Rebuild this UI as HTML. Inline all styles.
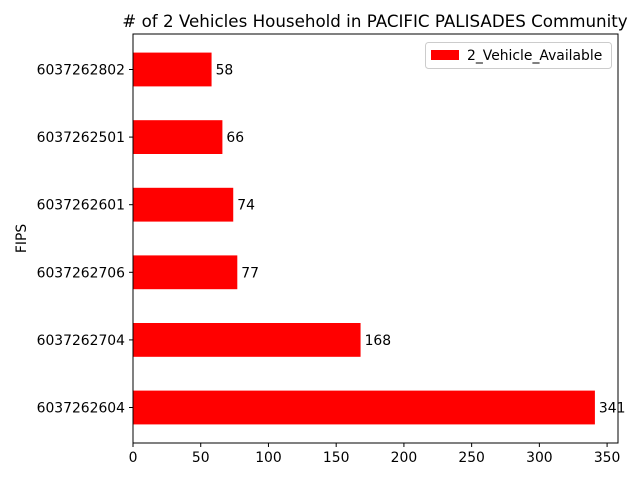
<!DOCTYPE html>
<html><head><meta charset="utf-8"><style>
body{margin:0;background:#fff;font-family:"Liberation Sans","DejaVu Sans",sans-serif;}
svg text{font-family:"DejaVu Sans","Liberation Sans",sans-serif;}
</style></head><body>
<svg id="c" width="640" height="480" xmlns="http://www.w3.org/2000/svg"></svg>
<script>
const categories=["6037262604","6037262704","6037262706","6037262601","6037262501","6037262802"];
const values=[341,168,77,74,66,58];
const xTicks=[0,50,100,150,200,250,300,350];
const L=133,R=618,T=34,B=443,xmax=358.05;
const ns="http://www.w3.org/2000/svg";
const svg=document.getElementById('c');
function x(v){return L+v/xmax*(R-L);}
const n=categories.length,ymin=-0.525,ymax=n-1+0.525;
function y(i){return B-(i-ymin)/(ymax-ymin)*(B-T);}
const bw=(B-T)/(ymax-ymin)*0.5;
function mk(t,a,txt){const e=document.createElementNS(ns,t);for(const k in a)e.setAttribute(k,a[k]);if(txt!==undefined)e.textContent=txt;svg.appendChild(e);return e;}
let e;
e=mk('text',{x:375,y:27,'font-size':16.7,'text-anchor':'middle'},'# of 2 Vehicles Household in PACIFIC PALISADES Community');


categories.forEach((c,i)=>{
  e=mk('rect',{x:L,y:y(i)-bw/2,width:x(values[i])-L,height:bw,fill:'#ff0000'});
  
  
  e=mk('text',{x:x(values[i])+4,y:y(i)+5,'font-size':13.9},String(values[i]));
  
  
  mk('line',{x1:L-4,x2:L,y1:y(i),y2:y(i),stroke:'#000'});
  e=mk('text',{x:L-8,y:y(i)+5,'font-size':13.9,'text-anchor':'end'},c);
  
  
});
xTicks.forEach(t=>{
  mk('line',{x1:x(t),x2:x(t),y1:B,y2:B+4,stroke:'#000'});
  e=mk('text',{x:x(t),y:B+19,'font-size':13.9,'text-anchor':'middle'},String(t));
  
  
});
mk('rect',{x:L,y:T,width:R-L,height:B-T,fill:'none',stroke:'#000','stroke-width':1});
e=mk('text',{x:26,y:(T+B)/2,'font-size':13.9,'text-anchor':'middle',transform:'rotate(-90 26 '+((T+B)/2)+')'},'FIPS');


e=mk('rect',{x:425.5,y:42.5,width:186,height:26,rx:3,fill:'#fff',stroke:'#ccc'});


mk('rect',{x:431,y:50,width:28,height:10,fill:'#ff0000'});
e=mk('text',{x:467,y:60,'font-size':13.9},'2_Vehicle_Available');


</script>
</body></html>
